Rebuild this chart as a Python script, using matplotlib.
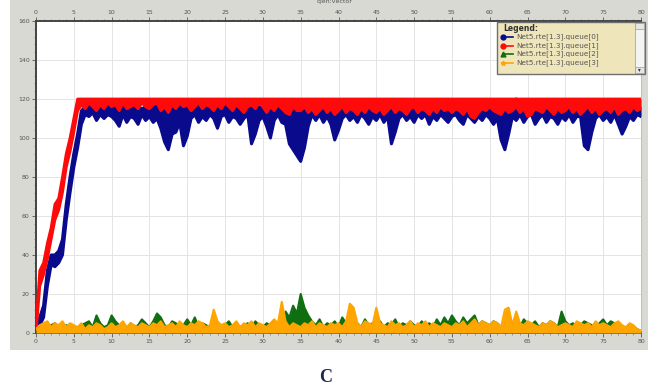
import numpy as np
import matplotlib
matplotlib.use("Agg")
import matplotlib.pyplot as plt
from matplotlib.patches import Rectangle
from matplotlib.lines import Line2D
from matplotlib.ticker import MultipleLocator

# ------------- data: per 0.5 s bin, t = 0 .. 80 (min / max envelopes for the dense series) -------------
time_step = 0.5
queue0_low = [  # blue, lower envelope
    0, 4, 8, 24, 35, 34, 36, 40, 58, 72,
    85, 95, 107, 112, 111, 113, 109, 112, 110, 112,
    111, 109, 106, 112, 108, 111, 110, 107, 112, 109,
    111, 108, 110, 105, 98, 94, 102, 103, 108, 96,
    101, 110, 112, 108, 111, 109, 112, 110, 105, 111,
    112, 108, 111, 110, 107, 110, 112, 97, 102, 109,
    111, 106, 100, 109, 112, 108, 107, 97, 94, 91,
    88, 95, 106, 112, 109, 112, 108, 111, 107, 99,
    104, 110, 112, 109, 111, 108, 112, 110, 107, 111,
    109, 112, 108, 111, 97, 103, 110, 112, 109, 111,
    108, 112, 110, 112, 107, 111, 109, 112, 110, 108,
    111, 112, 109, 107, 112, 110, 108, 111, 109, 112,
    110, 107, 110, 99, 94, 102, 111, 109, 112, 108,
    111, 112, 107, 110, 112, 108, 111, 110, 107, 111,
    109, 112, 108, 111, 111, 96, 94, 103, 110, 112,
    109, 111, 108, 112, 107, 102, 106, 111, 109, 112,
    111]
queue0_high = [  # blue, upper envelope
    4, 8, 14, 32, 40, 40, 42, 48, 66, 80,
    92, 102, 114, 116, 116, 117, 116, 115, 116, 116,
    117, 116, 115, 116, 116, 117, 116, 116, 115, 116,
    116, 117, 116, 116, 115, 116, 116, 117, 116, 116,
    116, 115, 116, 117, 116, 116, 116, 115, 116, 116,
    117, 116, 116, 115, 116, 116, 117, 116, 116, 116,
    115, 116, 116, 117, 116, 116, 116, 115, 116, 116,
    117, 116, 116, 116, 115, 116, 116, 117, 116, 116,
    116, 115, 116, 116, 117, 116, 116, 116, 115, 116,
    116, 117, 116, 116, 116, 115, 116, 116, 117, 116,
    116, 116, 115, 116, 116, 117, 116, 116, 116, 115,
    116, 116, 117, 116, 116, 116, 115, 116, 116, 117,
    116, 116, 116, 115, 119, 116, 117, 120, 116, 116,
    115, 116, 116, 117, 116, 116, 116, 115, 116, 116,
    117, 116, 116, 116, 115, 116, 116, 117, 116, 116,
    116, 115, 116, 116, 117, 116, 116, 116, 115, 116,
    116]
queue1_low = [  # red, lower envelope
    0, 24, 30, 38, 48, 58, 63, 72, 85, 93,
    103, 114, 117, 115, 118, 116, 114, 117, 115, 118,
    116, 117, 114, 118, 115, 116, 117, 115, 118, 116,
    115, 117, 118, 114, 116, 113, 117, 115, 118, 116,
    117, 114, 116, 118, 115, 117, 116, 114, 117, 115,
    118, 116, 114, 117, 115, 113, 116, 117, 115, 118,
    116, 113, 116, 114, 117, 115, 113, 112, 116, 114,
    114, 116, 113, 115, 112, 114, 116, 113, 115, 112,
    114, 116, 113, 115, 114, 112, 115, 113, 116, 114,
    113, 115, 112, 114, 116, 113, 115, 114, 112, 115,
    116, 113, 115, 114, 112, 115, 113, 116, 114, 115,
    113, 115, 114, 112, 115, 111, 110, 113, 115, 114,
    116, 114, 113, 112, 115, 113, 114, 116, 113, 115,
    111, 112, 115, 114, 113, 116, 114, 112, 115, 113,
    114, 116, 113, 115, 112, 114, 116, 113, 115, 112,
    114, 115, 113, 116, 112, 114, 115, 113, 116, 114,
    115]
queue1_high = [  # red, upper envelope (queue limit 120)
    4, 32, 36, 46, 54, 66, 69, 80, 92, 100,
    110, 120, 120, 120, 120, 120, 120, 120, 120, 120,
    120, 120, 120, 120, 120, 120, 120, 120, 120, 120,
    120, 120, 120, 120, 120, 120, 120, 120, 120, 120,
    120, 120, 120, 120, 120, 120, 120, 120, 120, 120,
    120, 120, 120, 120, 120, 120, 120, 120, 120, 120,
    120, 120, 120, 120, 120, 120, 120, 120, 120, 120,
    120, 120, 120, 120, 120, 120, 120, 120, 120, 120,
    120, 120, 120, 120, 120, 120, 120, 120, 120, 120,
    120, 120, 120, 120, 120, 120, 120, 120, 120, 120,
    120, 120, 120, 120, 120, 120, 120, 120, 120, 120,
    120, 120, 120, 120, 120, 120, 120, 120, 120, 120,
    120, 120, 120, 120, 120, 120, 120, 120, 120, 120,
    120, 120, 120, 120, 120, 120, 120, 120, 120, 120,
    120, 120, 120, 120, 120, 120, 120, 120, 120, 120,
    120, 120, 120, 120, 120, 120, 120, 120, 120, 120,
    120]
queue2 = [  # green
    0, 2, 3, 2, 4, 5, 3, 2, 4, 3,
    2, 3, 4, 5, 6, 3, 9, 5, 3, 4,
    9, 6, 4, 3, 2, 5, 3, 4, 7, 5,
    3, 6, 10, 8, 4, 3, 6, 5, 3, 4,
    7, 4, 8, 3, 5, 4, 3, 6, 4, 2,
    4, 6, 3, 5, 2, 4, 5, 3, 6, 4,
    3, 5, 4, 6, 4, 3, 11, 8, 14, 10,
    20, 13, 9, 6, 4, 7, 3, 5, 4, 6,
    3, 8, 5, 4, 6, 5, 3, 7, 4, 5,
    4, 6, 3, 5, 4, 7, 3, 5, 4, 6,
    4, 3, 6, 4, 5, 3, 7, 4, 8, 5,
    9, 6, 4, 8, 5, 7, 9, 4, 6, 5,
    4, 6, 5, 3, 4, 6, 5, 4, 3, 7,
    5, 4, 6, 3, 5, 4, 6, 5, 3, 11,
    6, 4, 5, 3, 4, 6, 5, 4, 3, 5,
    7, 4, 6, 5, 4, 3, 2, 4, 3, 2,
    1]
queue3 = [  # orange
    2, 4, 5, 6, 3, 5, 4, 6, 3, 5,
    4, 3, 5, 2, 4, 3, 5, 4, 2, 3,
    5, 3, 4, 6, 3, 5, 4, 3, 5, 4,
    3, 5, 4, 6, 3, 4, 5, 3, 6, 4,
    3, 5, 4, 6, 5, 3, 4, 12, 6, 4,
    5, 3, 4, 6, 3, 5, 4, 6, 3, 5,
    4, 3, 5, 7, 5, 16, 6, 3, 5, 4,
    3, 5, 4, 6, 3, 5, 4, 3, 5, 4,
    5, 3, 6, 15, 13, 5, 3, 6, 5, 4,
    13, 5, 4, 3, 6, 4, 5, 3, 4, 6,
    3, 5, 4, 6, 3, 5, 4, 3, 5, 4,
    3, 5, 4, 6, 3, 5, 7, 4, 6, 5,
    4, 6, 5, 3, 12, 13, 4, 11, 5, 4,
    6, 5, 4, 3, 5, 4, 6, 5, 3, 4,
    5, 4, 3, 6, 5, 4, 5, 3, 6, 4,
    5, 4, 3, 5, 6, 4, 3, 5, 4, 2,
    1]
series_names = ["Net5.rte[1.3].queue[0]", "Net5.rte[1.3].queue[1]",
                "Net5.rte[1.3].queue[2]", "Net5.rte[1.3].queue[3]"]
x_ticks = list(range(0, 81, 5))
y_ticks = list(range(0, 161, 20))

t = np.arange(len(queue0_low)) * time_step

W, H = 652, 387
fig = plt.figure(figsize=(W / 100, H / 100), dpi=100)
fig.patch.set_facecolor("white")


def fx(px):
    return px / W


def fy(py):
    return 1 - py / H


# grey application frame
fig.patches.append(Rectangle((fx(10), fy(350)), fx(648) - fx(10), fy(0) - fy(350),
                             transform=fig.transFigure, facecolor="#d9d9d4",
                             edgecolor="none", zorder=-5))

ax = fig.add_axes([fx(36), fy(333), fx(641) - fx(36), fy(21) - fy(333)])
ax.set_facecolor("white")

c_blue, c_red, c_green, c_orange = "#0a0a8c", "#ff0a0a", "#0f6e0f", "#ffa500"

# blue
ax.fill_between(t, queue0_low, queue0_high, color=c_blue, lw=0, zorder=3)
ax.plot(t, queue0_low, color=c_blue, lw=2.2, solid_joinstyle="round", zorder=3)
ax.plot(t, queue0_high, color=c_blue, lw=2.2, solid_joinstyle="round", zorder=3)
# red
ax.fill_between(t, queue1_low, queue1_high, color=c_red, lw=0, zorder=4)
ax.plot(t, queue1_low, color=c_red, lw=2.0, solid_joinstyle="round", zorder=4)
ax.plot(t, queue1_high, color=c_red, lw=2.0, solid_joinstyle="round", zorder=4)
# green / orange
ax.fill_between(t, 0, queue2, color=c_green, lw=0, zorder=5)
ax.plot(t, queue2, color=c_green, lw=1.5, zorder=5)
ax.fill_between(t, 0, queue3, color=c_orange, lw=0, zorder=6)
ax.plot(t, queue3, color=c_orange, lw=1.5, zorder=6)

ax.set_xlim(0, 80)
ax.set_ylim(0, 160)
ax.set_xticks(x_ticks)
ax.set_yticks(y_ticks)
ax.xaxis.set_minor_locator(MultipleLocator(1))
ax.yaxis.set_minor_locator(MultipleLocator(4))
ax.grid(True, which="major", color="#e4e4e4", lw=0.7, zorder=0)
ax.tick_params(axis="both", which="major", labelsize=4.5, labelcolor="#555555",
               color="#555555", length=3, width=0.6, pad=1.5)
ax.tick_params(axis="both", which="minor", color="#777777", length=1.5, width=0.5)
ax.tick_params(axis="x", which="both", top=True, labeltop=True, bottom=True)
ax.tick_params(axis="y", which="both", right=False)
for side in ["left", "bottom", "top"]:
    ax.spines[side].set_color("#444444")
    ax.spines[side].set_linewidth(1.4)
ax.spines["right"].set_color("#bbbbbb")
ax.spines["right"].set_linewidth(0.6)

# title text (mostly cut at the top)
fig.text(fx(335), fy(2), "qlen:vector", fontsize=4.5, color="#555555",
         ha="center", va="center")

# legend box (drawn by hand, OMNeT++ style)
fig.patches.append(Rectangle((fx(497), fy(74)), fx(645) - fx(497), fy(22) - fy(74),
                             transform=fig.transFigure, facecolor="#efe5bb",
                             edgecolor="#6f6f6f", lw=1.0, zorder=10))
fig.text(fx(503), fy(28.5), "Legend:", fontsize=5.5, fontweight="bold",
         color="#333333", ha="left", va="center", zorder=11)
markers = ["o", "o", "^", "*"]
colors = [c_blue, c_red, c_green, c_orange]
rows = [37, 45.5, 54, 62.5]
for name, m, c, ry in zip(series_names, markers, colors, rows):
    fig.add_artist(Line2D([fx(503), fx(513)], [fy(ry), fy(ry)], color=c, lw=1.2,
                          marker=m, markersize=3.5, markevery=[0],
                          transform=fig.transFigure, zorder=11))
    fig.text(fx(516), fy(ry), name, fontsize=5.2, color="#555555",
             ha="left", va="center", zorder=11)
# scrollbar
fig.patches.append(Rectangle((fx(635), fy(73)), fx(644) - fx(635), fy(23) - fy(73),
                             transform=fig.transFigure, facecolor="#f4f4f4",
                             edgecolor="#9a9a9a", lw=0.5, zorder=11))
for yy in (23, 67):
    fig.patches.append(Rectangle((fx(635), fy(yy + 6)), fx(644) - fx(635), fy(yy) - fy(yy + 6),
                                 transform=fig.transFigure, facecolor="#e6e6e6",
                                 edgecolor="#9a9a9a", lw=0.5, zorder=12))
fig.text(fx(639.5), fy(70), "\u25be", fontsize=4, color="#333333",
         ha="center", va="center", zorder=13)

# caption
fig.text(fx(326), fy(377), "C", fontsize=13, fontweight="bold",
         family="Liberation Serif", color="#1d2b4a", ha="center", va="center")

fig.savefig("out.png", dpi=100)
